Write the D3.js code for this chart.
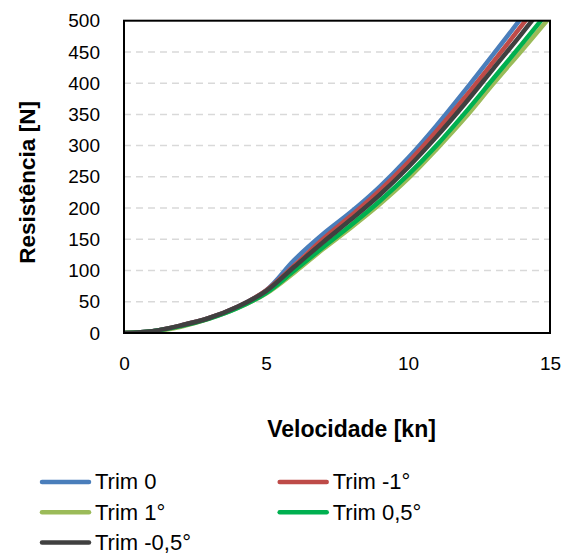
<!DOCTYPE html>
<html>
<head>
<meta charset="utf-8">
<script src="https://cdn.jsdelivr.net/npm/d3@7"></script>
<style>
  body { margin: 0; background: #fff; }
  svg { display: block; font-family: "Liberation Sans", Arial, sans-serif; }
</style>
</head>
<body>
<div id="chart"></div>
<script>
// speeds in knots
const speeds = [0, 1, 2, 3, 4, 5, 6, 7, 8, 9, 10, 11, 12, 13, 14, 15];

// resistance [N] per trim condition
const trim0 = [0, 3, 12, 24, 42, 68, 117, 158, 194, 234, 280, 332, 388, 446, 505, 566];
const trimMinus1 = [0, 3, 12, 24, 42, 68, 108, 150, 188, 228, 273, 323, 377, 434, 492, 552];
const trim1 = [0, 2, 10, 23, 40, 63, 97, 134, 169, 206, 247, 294, 344, 399, 452, 506];
const trim05 = [0, 3, 11, 23, 40, 64, 100, 137, 173, 211, 253, 300, 352, 407, 462, 518];
const trimMinus05 = [0, 3, 12, 24, 42, 67, 106, 145, 182, 221, 265, 314, 367, 423, 479, 537];

const seriesNames = ["Trim 0", "Trim -1°", "Trim 1°", "Trim 0,5°", "Trim -0,5°"];
const seriesValues = [trim0, trimMinus1, trim1, trim05, trimMinus05];
const seriesColors = ["#4A7EBB", "#BE4B48", "#9BBB59", "#00B050", "#404040"];

const xTicks = [0, 5, 10, 15];
const yTicks = [0, 50, 100, 150, 200, 250, 300, 350, 400, 450, 500];

const width = 563, height = 554;
const plot = { left: 124, right: 550, top: 20.7, bottom: 333 };

const svg = d3.select("#chart").append("svg")
    .attr("width", width)
    .attr("height", height);

const x = d3.scaleLinear().domain([0, 15]).range([plot.left, plot.right]);
const y = d3.scaleLinear().domain([0, 500]).range([plot.bottom, plot.top]);

// dashed gridlines
svg.append("g")
    .selectAll("line")
    .data(yTicks.filter(d => d > 0 && d < 500))
    .join("line")
    .attr("x1", plot.left)
    .attr("x2", plot.right)
    .attr("y1", d => y(d))
    .attr("y2", d => y(d))
    .attr("stroke", "#D9D9D9")
    .attr("stroke-width", 1.5)
    .attr("stroke-dasharray", "7,5");

// clip so curves stop at the 500 N border
svg.append("clipPath").attr("id", "plotclip")
    .append("rect")
    .attr("x", plot.left)
    .attr("y", plot.top)
    .attr("width", plot.right - plot.left)
    .attr("height", plot.bottom - plot.top);

const line = d3.line()
    .x((d, i) => x(speeds[i]))
    .y(d => y(d))
    .curve(d3.curveCatmullRom.alpha(0.5));

svg.append("g")
    .attr("clip-path", "url(#plotclip)")
    .selectAll("path")
    .data(seriesValues)
    .join("path")
    .attr("d", d => line(d))
    .attr("fill", "none")
    .attr("stroke", (d, i) => seriesColors[i])
    .attr("stroke-width", 4.5)
    .attr("stroke-linejoin", "round")
    .attr("stroke-linecap", "round");

// plot border
svg.append("rect")
    .attr("x", plot.left)
    .attr("y", plot.top)
    .attr("width", plot.right - plot.left)
    .attr("height", plot.bottom - plot.top)
    .attr("fill", "none")
    .attr("stroke", "#000")
    .attr("stroke-width", 2);

// y axis labels
const yAxis = svg.append("g")
    .attr("transform", `translate(${plot.left},0)`)
    .call(d3.axisLeft(y).tickValues(yTicks).tickSize(0).tickPadding(24));
yAxis.select(".domain").remove();
yAxis.selectAll("text")
    .attr("font-family", "Liberation Sans, Arial, sans-serif")
    .attr("font-size", 19)
    .attr("fill", "#000");

// x axis labels
const xAxis = svg.append("g")
    .attr("transform", `translate(0,${plot.bottom})`)
    .call(d3.axisBottom(x).tickValues(xTicks).tickSize(0).tickPadding(24));
xAxis.select(".domain").remove();
xAxis.selectAll("text")
    .attr("font-family", "Liberation Sans, Arial, sans-serif")
    .attr("font-size", 19)
    .attr("fill", "#000");

// axis titles
svg.append("text")
    .attr("x", 351.5)
    .attr("y", 436.7)
    .attr("text-anchor", "middle")
    .attr("font-size", 23)
    .attr("font-weight", "bold")
    .text("Velocidade [kn]");

svg.append("text")
    .attr("transform", "translate(35,182.4) rotate(-90)")
    .attr("text-anchor", "middle")
    .attr("font-size", 22.5)
    .attr("font-weight", "bold")
    .text("Resistência [N]");

// legend, two columns filled row by row
const legend = svg.append("g");
const item = legend.selectAll("g")
    .data(seriesNames)
    .join("g")
    .attr("transform", (d, i) => `translate(${i % 2 === 0 ? 40 : 277.7},${482 + Math.floor(i / 2) * 30.2})`);

item.append("line")
    .attr("x1", 2)
    .attr("x2", 49)
    .attr("y1", 0)
    .attr("y2", 0)
    .attr("stroke", (d, i) => seriesColors[i])
    .attr("stroke-width", 4.5)
    .attr("stroke-linecap", "round");

item.append("text")
    .attr("x", 55)
    .attr("y", 7.3)
    .attr("font-size", 22)
    .attr("fill", "#000")
    .text(d => d);
</script>
</body>
</html>
